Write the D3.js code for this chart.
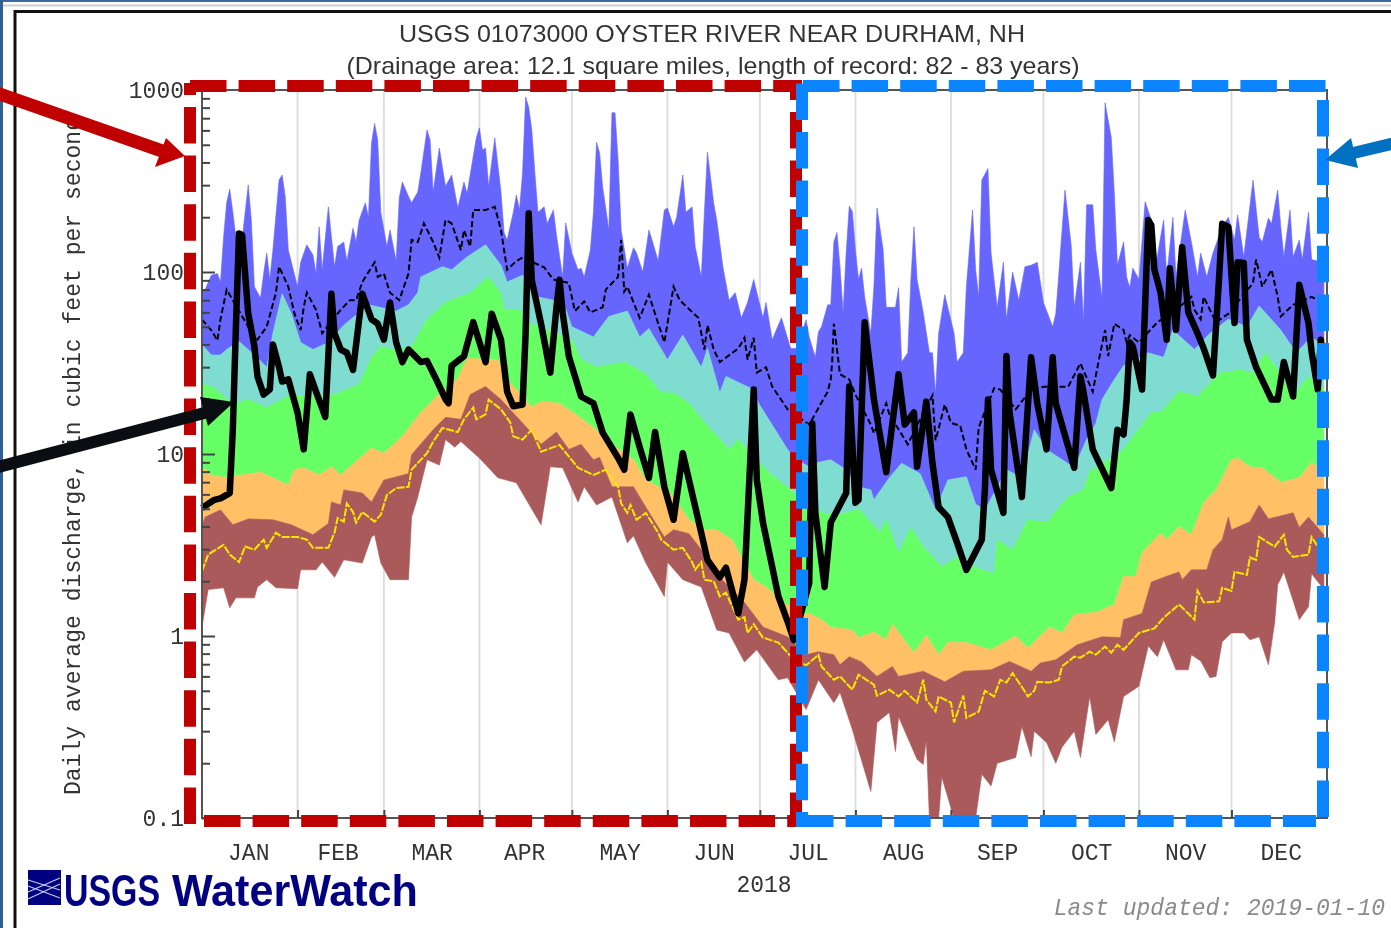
<!DOCTYPE html>
<html><head><meta charset="utf-8">
<script src="https://cdn.jsdelivr.net/npm/d3@7/dist/d3.min.js"></script>
<style>
html,body{margin:0;padding:0;background:#fff;overflow:hidden}
svg{display:block;filter:blur(0.45px)}
</style></head><body>
<script>
// ---- data: [day of 2018 counted from Jan 1, discharge in cubic feet per second] ----
const titleText = "USGS 01073000 OYSTER RIVER NEAR DURHAM, NH";
const subtitleText = "(Drainage area: 12.1 square miles, length of record: 82 - 83 years)";
const yLabelText = "Daily average discharge, in cubic feet per second";
const monthLabels = ["JAN","FEB","MAR","APR","MAY","JUN","JUL","AUG","SEP","OCT","NOV","DEC"];
const monthStartDays = [31,59,90,120,151,181,212,243,273,304,334];
const monthLabelDays = [15,44,74.5,104.5,135.5,166,196.5,227.5,258,288.5,319,350];
const majorTicks = [0.1,1,10,100,1000];
const minorTicks = [0.2,0.3,0.4,0.5,0.6,0.7,0.8,0.9,2,3,4,5,6,7,8,9,20,30,40,50,60,70,80,90,200,300,400,500,600,700,800,900];
const yearLabel = "2018";
const updatedText = "Last updated: 2019-01-10";

const maxFlow = [[0,80],[1,80],[3,96],[5,98],[6,88],[7,155],[8,240],[9,285],[10,213],[11,155],[13,150],[15,301],[16,193],[17,83],[19,72],[20,98],[21,127],[22,91],[23,132],[25,320],[26,341],[27,260],[28,132],[31,83],[32,113],[34,141],[36,124],[37,98],[38,177],[39,103],[41,228],[42,155],[43,107],[44,138],[46,146],[47,115],[49,174],[50,146],[51,193],[53,240],[54,200],[55,510],[56,655],[57,531],[58,213],[60,138],[61,170],[63,115],[64,255],[65,312],[67,260],[68,240],[70,275],[71,350],[73,603],[74,531],[75,275],[77,480],[79,295],[81,341],[83,225],[85,312],[86,270],[89,545],[90,620],[91,468],[92,480],[93,295],[95,545],[97,275],[98,165],[99,150],[101,213],[102,265],[103,219],[104,350],[105,915],[106,805],[107,603],[108,350],[109,213],[111,228],[112,185],[114,219],[115,160],[117,94],[118,186],[120,127],[122,103],[123,105],[124,94],[126,132],[127,213],[128,515],[129,450],[130,292],[132,170],[133,750],[134,750],[135,413],[136,170],[138,105],[140,136],[141,127],[143,100],[145,170],[146,150],[148,115],[150,219],[151,225],[153,177],[154,200],[156,341],[157,213],[159,228],[160,138],[162,94],[163,213],[164,455],[166,240],[167,193],[169,107],[171,70],[173,77],[175,56],[177,68],[179,91],[182,56],[183,68],[185,42.5],[188,56],[191,38],[193,38],[196,54.7],[197,44],[199,34],[200,47],[201,50],[203,66],[204,66],[205,146],[206,165],[207,107],[208,60],[209,127],[210,230],[211,215],[212,132],[213,91],[214,105],[215,73],[217,46],[218,83],[219,225],[221,132],[222,64],[225,64],[226,82],[227,32],[229,36],[230,91],[231,177],[232,91],[234,60],[236,36],[237,36],[238,21.5],[239,46],[241,75],[244,46],[245,32],[247,36],[248,83],[250,219],[251,103],[252,73],[253,320],[255,370],[256,127],[258,64],[260,113],[261,55],[263,100],[265,70],[267,107],[269,109],[271,113],[273,68],[276,50],[277,59],[278,98],[280,282],[282,140],[283,64],[285,113],[286,53],[287,234],[289,234],[290,132],[292,72],[293,850],[295,550],[296,270],[297,109],[299,146],[300,94],[301,82],[302,105],[304,91],[306,243],[308,193],[309,98],[311,155],[312,193],[313,94],[315,200],[316,94],[319,219],[321,146],[323,94],[324,127],[326,94],[328,127],[331,177],[333,200],[335,150],[336,206],[338,121],[341,320],[343,155],[344,146],[346,198],[347,184],[349,282],[350,177],[351,121],[353,219],[354,121],[356,150],[357,117],[359,213],[360,117],[364,113]];

const p90Flow = [[0,39.9],[3,35],[6,35],[8,37.5],[12,41.5],[17,35],[21,30],[23,46],[26,76],[29,59],[32,41],[36,37.5],[41,41],[46,51],[54,66],[63,61],[67,66],[70,77],[71,94],[78,107],[81,103],[86,121],[92,141],[97,109],[99,88],[104,96],[109,73],[114,70],[117,70],[120,50],[127,44],[132,57],[138,61],[142,44],[145,49],[151,33],[156,45],[162,30],[164,38],[168,21.7],[170,26.7],[178,23],[181,18.5],[190,10.6],[192,9.5],[197,8.5],[200,9],[204,9.3],[209,8.2],[213,6.6],[217,6.35],[218,5.6],[223,7.4],[227,8.9],[233,7.8],[238,4.93],[242,7.2],[248,7.5],[251,5.3],[254,4.93],[261,8.2],[266,7.4],[270,13.6],[274,10.6],[283,8.4],[287,12],[290,14.7],[292,19.9],[296,25.7],[299,30.5],[307,36],[312,34],[315,48],[322,37.5],[327,46],[333,55],[339,50],[343,65],[350,48],[355,36],[360,44],[364,39]];

const p75Flow = [[0,24.5],[4,23],[10,18.7],[15,19.9],[21,18],[29,21.2],[35,20.7],[43,21.2],[51,24.1],[55,34],[58,39],[62,37.5],[68,39],[73,54.7],[79,68],[87,77],[93,94],[97,76.5],[98,62],[103,62],[106,52.7],[120,42.5],[123,33],[128,30],[137,32],[140,30],[144,27.4],[149,21.7],[153,21.7],[158,19],[163,15],[171,10.6],[174,12],[184,7.9],[191,6.35],[202,4.7],[208,4.7],[213,5],[217,4.2],[220,3.7],[222,4.35],[226,2.85],[230,3.95],[234,3.1],[240,2.4],[245,2.7],[251,2.37],[257,2.2],[258,3.38],[263,2.98],[268,4.35],[274,4.2],[281,5.8],[286,6.35],[288,8],[294,9.3],[299,10.6],[308,16.9],[311,16.9],[317,22],[323,20.7],[330,27.8],[337,29],[341,27.8],[345,36],[349,29],[354,20.7],[359,26.7],[364,22.6]];

const p25Flow = [[0,8.5],[3,7.67],[7,7.45],[13,7.67],[19,7.95],[28,6.76],[30,8.2],[33,8.4],[38,7.67],[42,8.5],[45,7.67],[55,10.8],[59,10.1],[65,12.5],[71,16.9],[76,20.5],[83,26],[86,33.5],[96,33],[99,25.7],[104,20.7],[107,18.1],[110,19.4],[116,19],[120,17.1],[127,14],[132,11.6],[140,9.3],[144,7.2],[152,6.1],[158,4.35],[163,3.83],[167,3.83],[172,3.38],[179,2.04],[183,1.86],[189,1.52],[194,1.33],[197,1.33],[201,1.23],[204,1.12],[211,1.08],[213,0.98],[218,1.05],[222,0.953],[224,1.16],[231,0.81],[235,1.01],[239,0.788],[242,0.92],[248,0.92],[256,0.84],[264,1],[268,0.86],[275,1.12],[279,1.04],[283,1.31],[290,1.35],[296,1.49],[299,2.12],[303,2.12],[305,2.87],[311,3.68],[313,3.38],[317,4],[321,3.6],[325,5.4],[329,6.35],[334,9.3],[336,9.5],[340,8.5],[344,8.4],[350,7],[356,7.4],[360,9],[364,8]];

const p10Flow = [[0,4],[1,4.5],[4,4.75],[6,4.93],[10,4.08],[15,4.4],[23,4.35],[29,4.08],[36,3.6],[41,4.15],[42,5.45],[45,5.25],[46,6.35],[52,6.1],[55,5.45],[59,7.2],[67,7.8],[68,9.9],[75,13.6],[79,15.9],[84,15.5],[87,21.2],[92,23.5],[97,19.9],[106,13.6],[110,11.3],[115,13.2],[119,10.6],[123,11.3],[127,9.3],[129,9.6],[133,6.6],[140,6.6],[144,5.1],[150,3.5],[153,3.83],[158,3.65],[162,2.98],[168,2.1],[176,1.53],[182,1.12],[190,0.99],[196,0.788],[200,0.82],[205,0.788],[207,0.695],[210,0.77],[214,0.72],[219,0.6],[224,0.68],[226,0.6],[234,0.64],[241,0.56],[247,0.64],[256,0.652],[262,0.725],[269,0.64],[272,0.71],[277,0.74],[284,0.895],[292,0.99],[298,0.98],[299,1.23],[305,1.33],[308,1.98],[313,2.13],[317,2.25],[318,2.04],[321,2.31],[326,2.31],[328,2.98],[331,3.38],[333,4.5],[334,3.83],[340,4.25],[343,5.25],[346,4.4],[354,4.75],[356,3.95],[359,4.5],[364,3.6]];

const minFlow = [[0,1.12],[2,1.8],[7,1.84],[9,1.43],[11,1.62],[17,1.62],[18,1.86],[21,2.04],[24,1.84],[31,1.82],[32,2.31],[37,2.31],[39,2.55],[43,2.1],[46,2.62],[52,2.52],[55,3.5],[56,3.6],[58,2.52],[61,2.04],[67,2.04],[68,4.5],[70,5.8],[73,9.3],[77,8.7],[79,12],[82,10.9],[84,11.7],[90,9.5],[96,7.4],[102,6.95],[110,4.08],[113,8.5],[117,8.4],[122,5.45],[124,6.6],[128,5.25],[133,5.8],[138,3.25],[140,3.55],[144,2.52],[150,1.65],[151,2.55],[156,2.04],[162,1.86],[167,1.08],[171,1.04],[176,0.72],[180,0.84],[187,0.575],[190,0.59],[196,0.394],[200,0.575],[205,0.43],[207,0.49],[211,0.306],[217,0.14],[219,0.335],[223,0.38],[225,0.232],[226,0.36],[232,0.21],[234,0.197],[235,0.27],[236,0.1],[239,0.1],[240,0.168],[244,0.1],[251,0.1],[253,0.174],[256,0.15],[258,0.2],[264,0.215],[266,0.318],[269,0.217],[270,0.3],[274,0.26],[277,0.2],[279,0.245],[283,0.3],[285,0.215],[288,0.465],[290,0.288],[294,0.347],[296,0.262],[299,0.465],[304,0.53],[307,0.88],[310,0.77],[312,0.953],[316,0.652],[320,0.652],[321,0.788],[324,0.73],[327,0.59],[329,0.6],[331,0.93],[334,1.04],[338,1.04],[340,0.953],[343,0.99],[346,0.695],[348,1.18],[349,1.91],[351,2.25],[356,1.23],[359,1.45],[360,2.2],[364,1.8]];

const meanFlow = [[0,54.7],[3,48],[5,42],[6,55],[8,80],[10,70],[15,50],[18,42.5],[21,50],[24,77],[25,107],[28,83],[30,59],[32,48],[33,64],[34,77],[37,62],[39,46],[45,62],[48,70],[50,70],[52,88],[56,113],[57,94],[59,98],[61,77],[64,70],[67,98],[68,150],[70,146],[72,185],[75,146],[77,120],[79,193],[81,185],[84,132],[85,170],[87,138],[88,219],[92,219],[95,228],[97,170],[98,132],[99,103],[102,115],[104,120],[111,106],[114,91],[119,87],[121,61],[124,69],[126,60],[130,64],[131,80],[135,94],[136,150],[137,78],[138,83],[142,56],[145,75],[150,41],[153,83],[155,70],[161,56],[162,46],[163,37.5],[164,51],[166,37.5],[168,32],[174,38],[176,43.5],[177,33],[179,43.5],[180,28],[183,30],[185,23.5],[190,17.6],[197,14.5],[201,19.2],[203,22],[204,25.7],[204.5,33],[205,52],[205.5,44.5],[207,27.4],[210,25.7],[212,21.2],[217,14.5],[218,13],[222,19],[223,16.5],[229,11.3],[233,15.5],[237,21],[238,11.9],[241,18.7],[243,14.8],[246,14.3],[248,10.6],[251,8.2],[252,14],[257,23],[259,22.6],[264,17.6],[269,22.6],[273,23.4],[281,23.4],[285,31.5],[289,22],[291,33],[293,48],[294,34.5],[296,52],[299,48],[300,41],[301,45],[304,41],[310,53],[316,62],[321,73],[322,62],[324,55],[325,73],[327,62],[329,53],[333,59],[341,87],[342,117],[344,83],[347,103],[349,73],[350,57],[354,66],[360,73],[362,70],[364,66]];

const medianFlow = [[0,2.27],[2,2.8],[7,3.17],[9,2.8],[12,2.55],[14,3.1],[17,2.98],[20,3.38],[21,3.05],[24,3.7],[26,3.5],[31,3.5],[34,3.38],[36,3.05],[41,3.05],[43,3.7],[44,4.45],[46,4.25],[47,5.35],[49,4.8],[50,4.2],[52,4.8],[56,4.25],[58,4.63],[60,5.96],[63,6.5],[67,6.6],[68,8.2],[73,10.1],[75,11.7],[78,13.9],[83,13.2],[85,15.5],[88,18],[89,15.5],[92,16.5],[93,19.9],[97,17.6],[100,14.9],[101,12.5],[104,12],[107,13.6],[110,10.3],[116,11.2],[122,8.4],[127,7.67],[131,8.2],[135,6.6],[136,5.35],[138,4.75],[139,5.25],[141,4.35],[144,4.75],[148,3.7],[149,3.38],[153,2.98],[156,3.05],[159,2.55],[160,2.31],[162,2.55],[163,2.04],[166,2],[168,1.65],[170,1.73],[174,1.23],[176,1.27],[177,1.04],[179,1.16],[182,0.98],[187,0.92],[191,0.775],[196,0.69],[200,0.788],[201,0.68],[205,0.575],[207,0.6],[211,0.507],[213,0.613],[218,0.54],[219,0.47],[223,0.507],[226,0.465],[228,0.5],[232,0.43],[234,0.575],[235,0.447],[238,0.385],[239,0.465],[243,0.43],[244,0.335],[247,0.47],[248,0.355],[252,0.385],[254,0.5],[257,0.465],[259,0.575],[261,0.555],[263,0.625],[266,0.525],[268,0.465],[270,0.5],[271,0.56],[275,0.555],[278,0.575],[279,0.68],[283,0.77],[285,0.76],[288,0.82],[290,0.79],[293,0.875],[295,0.81],[297,0.895],[299,0.84],[304,1.04],[309,1.1],[312,1.26],[317,1.49],[322,1.23],[323,1.77],[325,1.53],[330,1.55],[331,1.84],[334,1.77],[335,2.25],[339,2.17],[340,2.7],[342,2.62],[343,3.5],[348,3.1],[351,3.6],[352,2.98],[354,2.72],[359,2.8],[360,3.5],[362,3.1],[364,3.25]];

const flow2018 = [[0,5.05],[4,5.6],[6,5.7],[9,6.1],[10,13.6],[11,50],[12,163],[13,160],[15,59],[17,39],[18,26.7],[20,21.2],[22,22.6],[23,40],[25,30],[26,25],[28,25.7],[31,16.9],[33,10.6],[34,16.9],[35,27.4],[37,22],[40,16],[42,76],[43,46],[45,37.5],[47,36],[49,29],[52,76],[55,55],[57,52],[59,42.5],[61,68],[63,41],[65,32],[67,37.5],[71,32],[73,32.5],[76,25.7],[79,20],[80,19],[81,30.5],[85,34.5],[88,53],[92,32],[94,59],[97,42.5],[99,22],[101,18.3],[104,18.7],[105,46],[106,210],[107,90],[110,52],[113,28],[115,64],[116,90.6],[117,60],[119,34.5],[123,20.7],[127,19],[130,13.1],[135,9.5],[137,8.2],[139,16.5],[142,10.9],[145,7.4],[147,13.2],[150,6.6],[153,4.35],[156,10.1],[161,4.35],[164,2.62],[168,2.1],[170,2.37],[174,1.33],[176,2.04],[179,22.6],[180,7.2],[182,4.2],[187,1.65],[190,1.2],[192,0.95],[197,1.95],[198,14.7],[199,4.75],[202,1.86],[204,4.2],[209,6.1],[210,23.5],[212,5.4],[213,5.6],[215,53],[218,20],[222,7.95],[226,27.4],[228,14.5],[231,16.9],[232,8.5],[235,19.4],[237,8.9],[239,5.1],[242,4.5],[245,3.25],[248,2.31],[253,3.38],[254,6.35],[255,19.9],[256,8.2],[260,4.75],[261,34.5],[262,16.9],[266,5.8],[269,34],[271,19],[274,10.6],[276,34],[277,19],[283,8.4],[285,26.7],[286,22],[289,10.6],[295,6.5],[297,13.6],[299,12.8],[300,19.9],[301,41],[302,39],[305,22.6],[307,193],[308,181],[309,103],[311,77],[313,42.5],[314,105],[316,48],[318,137],[320,60],[323,46],[325,38],[328,27],[330,94],[331,184],[333,177],[335,52.5],[336,113],[338,112],[339,42.5],[342,30],[347,19.9],[349,19.9],[351,32],[354,20.7],[356,85],[359,52.5],[360,36.5],[362,22.6],[363,42.5],[364,29]];

// ---- drawing ----
const W = 1391, H = 928;
const svg = d3.select("body").append("svg").attr("width", W).attr("height", H);
const mono = "'Liberation Mono','DejaVu Sans Mono',monospace";
const sans = "'Liberation Sans',Arial,sans-serif";
const inkText = "#333";

const yearStart = Date.UTC(2018,0,1), dayMs = 864e5;
const dayDate = d => new Date(yearStart + d * dayMs);
const x = d3.scaleUtc().domain([dayDate(0), dayDate(365)]).range([202, 1327]);
const y = d3.scaleLog().domain([0.1, 1000]).range([818, 90]);

// page frame
svg.append("rect").attr("x",0).attr("y",0).attr("width",W).attr("height",2).attr("fill","#3d6a9e");
svg.append("rect").attr("x",0).attr("y",0).attr("width",3).attr("height",H).attr("fill","#2f5f97");
svg.append("rect").attr("x",3).attr("y",4.5).attr("width",W).attr("height",2).attr("fill","#cfcfcf");
svg.append("path").attr("d",`M15,${H}V11.5H${W}`).attr("fill","none").attr("stroke","#111").attr("stroke-width",3);

// titles
svg.append("text").attr("x",712).attr("y",42).attr("text-anchor","middle").attr("font-family",sans).attr("font-size",24)
  .attr("fill",inkText).attr("textLength",626).attr("lengthAdjust","spacingAndGlyphs").text(titleText);
svg.append("text").attr("x",713).attr("y",74).attr("text-anchor","middle").attr("font-family",sans).attr("font-size",24)
  .attr("fill",inkText).attr("textLength",733).attr("lengthAdjust","spacingAndGlyphs").text(subtitleText);

// gridlines at month starts
const plot = svg.append("g");
plot.selectAll("line.grid").data(monthStartDays).join("line").attr("class","grid")
  .attr("x1",d=>x(dayDate(d))).attr("x2",d=>x(dayDate(d))).attr("y1",y(1000)).attr("y2",y(0.1))
  .attr("stroke","#dedede").attr("stroke-width",2);

// percentile bands: polygons running along the upper series and back along the lower one
const ring = d3.line().x(d=>x(dayDate(d[0]))).y(d=>y(d[1]));
const bands = [
  [maxFlow,p90Flow,"#6666ff"],
  [p90Flow,p75Flow,"#7fdcd0"],
  [p75Flow,p25Flow,"#66ff66"],
  [p25Flow,p10Flow,"#ffc066"],
  [p10Flow,minFlow,"#aa5a5a"]
];
bands.forEach(([upper,lower,colour])=>{
  plot.append("path").attr("d", ring(upper.concat(lower.slice().reverse()))+"Z")
    .attr("fill",colour).attr("stroke",colour).attr("stroke-width",0.6);
});

// series lines
plot.append("path").attr("d",ring(medianFlow)).attr("fill","none").attr("stroke","#ffe600").attr("stroke-width",2).attr("stroke-dasharray","8 1.5");
plot.append("path").attr("d",ring(meanFlow)).attr("fill","none").attr("stroke","#000").attr("stroke-width",2).attr("stroke-dasharray","6 3");
plot.append("path").attr("d",ring(flow2018)).attr("fill","none").attr("stroke","#000").attr("stroke-width",6.5).attr("stroke-linejoin","round");

// plot frame
plot.append("rect").attr("x",202).attr("y",90).attr("width",1125).attr("height",728).attr("fill","none").attr("stroke","#555").attr("stroke-width",2);

// y axes
const styleAxis = g => { g.selectAll("line").attr("stroke","#444").attr("stroke-width",2); g.select(".domain").remove();
  g.selectAll("text").attr("font-family",mono).attr("font-size",23).attr("fill",inkText); };
svg.append("g").attr("transform","translate(202,0)")
  .call(d3.axisLeft(y).tickValues(majorTicks).tickFormat(d=>String(d)).tickSize(-13).tickPadding(18))
  .call(styleAxis).selectAll("text").attr("dy","0.32em");
svg.append("g").attr("transform","translate(202,0)")
  .call(d3.axisLeft(y).tickValues(minorTicks).tickFormat("").tickSize(-8)).call(styleAxis);

// x axes: month-start ticks and mid-month labels
svg.append("g").attr("transform","translate(0,818)")
  .call(d3.axisBottom(x).tickValues(monthStartDays.map(dayDate)).tickFormat("").tickSize(-8)).call(styleAxis);
svg.append("g").attr("transform","translate(0,818)")
  .call(d3.axisBottom(x).tickValues(monthLabelDays.map(dayDate)).tickFormat((d,i)=>monthLabels[i]).tickSize(0).tickPadding(35))
  .call(styleAxis).selectAll("text").attr("dy","0.32em");

svg.append("text").attr("x",764).attr("y",892).attr("text-anchor","middle").attr("font-family",mono).attr("font-size",23).attr("fill",inkText).text(yearLabel);
svg.append("text").attr("x",1385).attr("y",915).attr("text-anchor","end").attr("font-family",mono).attr("font-style","italic").attr("font-size",23).attr("fill","#8a8a8a").text(updatedText);

// y title, hidden above the red arrow as in the source picture
svg.append("clipPath").attr("id","ylabClip").append("rect").attr("x",40).attr("y",122).attr("width",60).attr("height",700);
svg.append("g").attr("clip-path","url(#ylabClip)").append("text")
  .attr("transform","translate(80,795) rotate(-90)").attr("font-family",mono).attr("font-size",23).attr("fill",inkText)
  .attr("textLength",678).attr("lengthAdjust","spacing").text(yLabelText);

// logo
const navy = "#000080";
const logo = svg.append("g");
logo.append("rect").attr("x",28).attr("y",870).attr("width",33).attr("height",35).attr("fill",navy);
[[28,880,60,890],[28,892,60,878],[28,886,60,898],[28,899,60,884]].forEach(s=>{
  logo.append("line").attr("x1",s[0]).attr("y1",s[1]).attr("x2",s[2]).attr("y2",s[3]).attr("stroke","#c9c9ee").attr("stroke-width",1.2);
});
logo.append("text").attr("transform","translate(64,906) scale(0.77,1)").attr("font-family",sans).attr("font-weight","bold").attr("font-size",44).attr("fill",navy).text("USGS");
logo.append("text").attr("transform","translate(172,906) scale(0.98,1)").attr("font-family",sans).attr("font-weight","bold").attr("font-size",44).attr("fill",navy).text("WaterWatch");

// dashed annotation boxes
const annot = svg.append("g");
const dash = "36.5 12.1";
function side(x1,y1,x2,y2,c,d){ annot.append("line").attr("x1",x1).attr("y1",y1).attr("x2",x2).attr("y2",y2)
  .attr("stroke",c).attr("stroke-width",12).attr("stroke-dasharray",d?dash:null); }
const red = "#c00000", blue = "#0a84ff";
side(190,86,790,86,red,true);
side(184,89,196,89,red,false);
side(190,107,190,826,red,true);
side(204,821,790,821,red,true);
side(796,80,796,100,red,false);
side(796,112,796,827,red,true);
side(803,86,1329,86,blue,true);
side(802,83.4,802,812,blue,true);
side(797,821,1316,821,blue,true);
side(1323,100,1323,818,blue,true);
side(802,812,802,827,blue,false);

// arrows
function arrow(x1,y1,x2,y2,head,c,w){
  annot.append("line").attr("x1",x1).attr("y1",y1).attr("x2",x2).attr("y2",y2).attr("stroke",c).attr("stroke-width",w);
  annot.append("polygon").attr("points",head.map(p=>p.join(",")).join(" ")).attr("fill",c);
}
arrow(-6,92,165,152,[[166,138],[185,156],[155,167]],red,13);
arrow(-6,468,212,411,[[200,397],[234,402],[208,426]],"#0a0d12",12);
arrow(1395,143,1345,155,[[1325,160],[1351,138],[1358,168]],"#0070c0",12);
</script>
</body></html>
